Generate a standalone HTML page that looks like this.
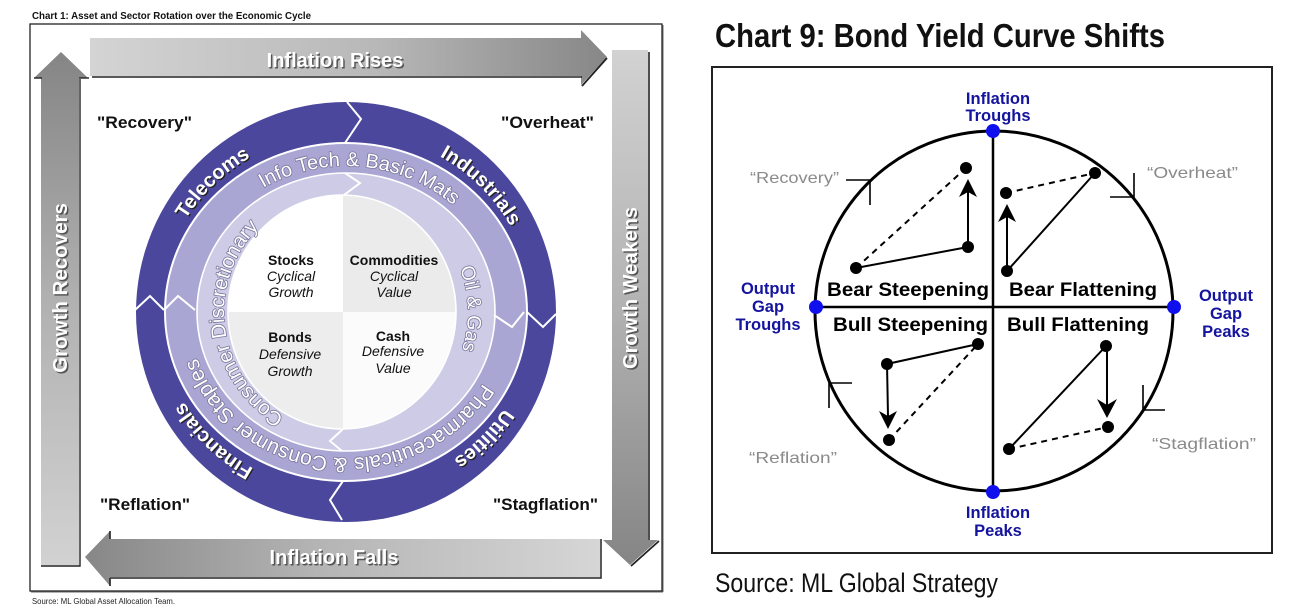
<!DOCTYPE html>
<html><head><meta charset="utf-8">
<style>
html,body{margin:0;padding:0;background:#fff;}
svg{display:block;}
text{font-family:"Liberation Sans",Arial,sans-serif;}
</style></head><body>
<svg width="1315" height="611" viewBox="0 0 1315 611" xmlns="http://www.w3.org/2000/svg">
<defs>
<linearGradient id="gTop" x1="90" y1="0" x2="607" y2="0" gradientUnits="userSpaceOnUse">
<stop offset="0" stop-color="#d4d4d4"/><stop offset="0.55" stop-color="#b8b8b8"/><stop offset="1" stop-color="#878787"/>
</linearGradient>
<linearGradient id="gBot" x1="85" y1="0" x2="600" y2="0" gradientUnits="userSpaceOnUse">
<stop offset="0" stop-color="#878787"/><stop offset="0.45" stop-color="#b4b4b4"/><stop offset="1" stop-color="#d6d6d6"/>
</linearGradient>
<linearGradient id="gRight" x1="0" y1="50" x2="0" y2="565" gradientUnits="userSpaceOnUse">
<stop offset="0" stop-color="#d2d2d2"/><stop offset="0.5" stop-color="#b2b2b2"/><stop offset="1" stop-color="#858585"/>
</linearGradient>
<linearGradient id="gLeft" x1="0" y1="565" x2="0" y2="52" gradientUnits="userSpaceOnUse">
<stop offset="0" stop-color="#d2d2d2"/><stop offset="0.5" stop-color="#b2b2b2"/><stop offset="1" stop-color="#858585"/>
</linearGradient>
<clipPath id="qc"><ellipse cx="342" cy="312" rx="114" ry="117"/></clipPath>
<path id="pTel" d="M170.3,250.4 A187,180 0 0 1 282.0,142.9"/>
<path id="pInd" d="M413.0,144.0 A187,180 0 0 1 522.8,253.4"/>
<path id="pUti" d="M523.3,369.1 A187,180 0 0 1 414.5,479.5"/>
<path id="pFin" d="M282.0,481.1 A187,180 0 0 1 170.3,373.6"/>
<path id="pInfo" d="M225.7,218.2 A157,146 0 0 1 484.0,242.3"/>
<path id="pPha" d="M488.3,373.7 A157,146 0 0 1 193.7,347.3"/>
<path id="pOil" d="M451.7,251.5 A122,121 0 0 1 454.7,366.9"/>
<path id="pCon" d="M294.4,421.7 A122,121 0 0 1 267.6,219.3"/>
</defs>

<!-- ================= LEFT CHART ================= -->
<text x="32" y="19" font-size="10.5" font-weight="bold" fill="#111" textLength="279" lengthAdjust="spacingAndGlyphs">Chart 1: Asset and Sector Rotation over the Economic Cycle</text>
<rect x="30" y="24" width="632" height="567" fill="#fff" stroke="#222" stroke-width="1.3"/>
<line x1="663" y1="25" x2="663" y2="592" stroke="#666" stroke-width="1"/>
<line x1="31" y1="592" x2="663" y2="592" stroke="#666" stroke-width="1"/>

<!-- top arrow -->
<polygon points="90,38 581,38 581,30 607,57 581,85 581,76 90,76" fill="url(#gTop)"/>
<polyline points="92,77 582,77" fill="none" stroke="#222" stroke-width="1.6"/>
<polyline points="582,86 607,58" fill="none" stroke="#222" stroke-width="1.8"/>
<text x="336.5" y="68.5" font-size="20" font-weight="bold" fill="#555" text-anchor="middle">Inflation Rises</text>
<text x="335" y="67" font-size="20" font-weight="bold" fill="#fff" text-anchor="middle">Inflation Rises</text>

<!-- right arrow -->
<polygon points="612,50 648,50 648,540 658,540 630,565 603,540 612,540" fill="url(#gRight)"/>
<polyline points="649,52 649,540" fill="none" stroke="#222" stroke-width="1.6"/>
<polyline points="659,541 631,566" fill="none" stroke="#222" stroke-width="1.8"/>
<text transform="translate(638.5,289.5) rotate(-90)" font-size="20" font-weight="bold" fill="#555" text-anchor="middle">Growth Weakens</text>
<text transform="translate(637,288) rotate(-90)" font-size="20" font-weight="bold" fill="#fff" text-anchor="middle">Growth Weakens</text>

<!-- left arrow -->
<polygon points="61,52 88,78 79,78 79,565 41,565 41,78 34,78" fill="url(#gLeft)"/>
<polyline points="41,566 80,566 80,79" fill="none" stroke="#222" stroke-width="1.4"/>
<polyline points="34,78 42,78" fill="none" stroke="#222" stroke-width="1.4"/>
<polyline points="79,78 89,78" fill="none" stroke="#222" stroke-width="1.4"/>
<text transform="translate(68.5,289.5) rotate(-90)" font-size="20.5" font-weight="bold" fill="#555" text-anchor="middle">Growth Recovers</text>
<text transform="translate(67,288) rotate(-90)" font-size="20.5" font-weight="bold" fill="#fff" text-anchor="middle">Growth Recovers</text>

<!-- bottom arrow -->
<polygon points="85,557 110,531 110,539 600,539 600,577 110,577 110,586" fill="url(#gBot)"/>
<polyline points="110,531 110,539" fill="none" stroke="#222" stroke-width="1.6"/>
<polyline points="110,578 601,578 601,539" fill="none" stroke="#222" stroke-width="1.5"/>
<polyline points="110,578 110,586" fill="none" stroke="#222" stroke-width="1.6"/>
<text x="335.5" y="565.5" font-size="20" font-weight="bold" fill="#555" text-anchor="middle">Inflation Falls</text>
<text x="334" y="564" font-size="20" font-weight="bold" fill="#fff" text-anchor="middle">Inflation Falls</text>

<!-- corner labels -->
<text x="97" y="128" font-size="17" font-weight="bold" fill="#111" textLength="95" lengthAdjust="spacingAndGlyphs">"Recovery"</text>
<text x="501" y="128" font-size="17" font-weight="bold" fill="#111" textLength="93" lengthAdjust="spacingAndGlyphs">"Overheat"</text>
<text x="100" y="510" font-size="17" font-weight="bold" fill="#111" textLength="90" lengthAdjust="spacingAndGlyphs">"Reflation"</text>
<text x="493" y="510" font-size="17" font-weight="bold" fill="#111" textLength="105" lengthAdjust="spacingAndGlyphs">"Stagflation"</text>

<!-- rings -->
<ellipse cx="346" cy="312" rx="210" ry="210" fill="#4b479c"/>
<ellipse cx="346" cy="312" rx="181" ry="169" fill="#a9a6d4" stroke="#fff" stroke-width="2"/>
<ellipse cx="346" cy="312" rx="149" ry="139" fill="#cdcbe6" stroke="#fff" stroke-width="1.6"/>
<g clip-path="url(#qc)">
<rect x="220" y="190" width="123" height="122" fill="#ffffff"/>
<rect x="343" y="190" width="120" height="122" fill="#ebebeb"/>
<rect x="220" y="312" width="123" height="122" fill="#ededed"/>
<rect x="343" y="312" width="120" height="122" fill="#fbfbfb"/>
</g>
<ellipse cx="342" cy="312" rx="114" ry="117" fill="none" stroke="#fff" stroke-width="1.6"/>

<!-- chevrons -->
<g fill="none" stroke="#fff" stroke-width="2" stroke-linejoin="miter">
<polyline points="347,102 361,119 345,143"/>
<polyline points="556,314 543,327 527,312"/>
<polyline points="343,481 330,500 342,520"/>
<polyline points="135,310 150,296 164,310"/>
<polyline points="524,312 512,327 494,315"/>
<polyline points="164,310 178,296 195,310"/>
<polyline points="345,173 360,183 344,195"/>
<polyline points="343,429 330,441 342,451"/>
</g>

<!-- ring text: outer -->
<g font-size="20" font-weight="bold">
<g transform="translate(1.2,1.2)" fill="#222">
<text><textPath href="#pTel" startOffset="50%" text-anchor="middle">Telecoms</textPath></text>
<text><textPath href="#pInd" startOffset="50%" text-anchor="middle">Industrials</textPath></text>
<text><textPath href="#pUti" startOffset="50%" text-anchor="middle">Utilities</textPath></text>
<text><textPath href="#pFin" startOffset="50%" text-anchor="middle">Financials</textPath></text>
</g>
<g fill="#fff">
<text><textPath href="#pTel" startOffset="50%" text-anchor="middle">Telecoms</textPath></text>
<text><textPath href="#pInd" startOffset="50%" text-anchor="middle">Industrials</textPath></text>
<text><textPath href="#pUti" startOffset="50%" text-anchor="middle">Utilities</textPath></text>
<text><textPath href="#pFin" startOffset="50%" text-anchor="middle">Financials</textPath></text>
</g>
</g>
<!-- ring text: middle/inner -->
<g fill="#fff" stroke="#77749a" stroke-width="1.6" paint-order="stroke" stroke-linejoin="round">
<text font-size="20"><textPath href="#pInfo" startOffset="50%" text-anchor="middle">Info Tech &amp; Basic Mats</textPath></text>
<text font-size="21"><textPath href="#pPha" startOffset="50%" text-anchor="middle">Pharmaceuticals &amp; Consumer Staples</textPath></text>
<text font-size="19.5"><textPath href="#pOil" startOffset="50%" text-anchor="middle">Oil &amp; Gas</textPath></text>
<text font-size="20.5"><textPath href="#pCon" startOffset="50%" text-anchor="middle">Consumer Discretionary</textPath></text>
</g>

<!-- quadrant labels -->
<g font-size="14" fill="#111" text-anchor="middle">
<text x="291" y="265" font-weight="bold">Stocks</text>
<text x="291" y="281" font-style="italic">Cyclical</text>
<text x="291" y="297" font-style="italic">Growth</text>
<text x="394" y="265" font-weight="bold">Commodities</text>
<text x="394" y="281" font-style="italic">Cyclical</text>
<text x="394" y="297" font-style="italic">Value</text>
<text x="290" y="342" font-weight="bold">Bonds</text>
<text x="290" y="359" font-style="italic">Defensive</text>
<text x="290" y="376" font-style="italic">Growth</text>
<text x="393" y="341" font-weight="bold">Cash</text>
<text x="393" y="356" font-style="italic">Defensive</text>
<text x="393" y="373" font-style="italic">Value</text>
</g>

<text x="32" y="604" font-size="8.5" fill="#222" textLength="143" lengthAdjust="spacingAndGlyphs">Source: ML Global Asset Allocation Team.</text>

<!-- ================= RIGHT CHART ================= -->
<text x="715" y="47" font-size="33" font-weight="bold" fill="#111" textLength="450" lengthAdjust="spacingAndGlyphs">Chart 9: Bond Yield Curve Shifts</text>
<rect x="712" y="67" width="560" height="486" fill="#fff" stroke="#222" stroke-width="2"/>

<ellipse cx="994" cy="311" rx="179" ry="180" fill="none" stroke="#000" stroke-width="3"/>
<line x1="993" y1="131" x2="993" y2="492" stroke="#000" stroke-width="2.5"/>
<line x1="815" y1="307" x2="1174" y2="307" stroke="#000" stroke-width="2.5"/>

<!-- ticks -->
<g stroke="#000" stroke-width="1.6" fill="none">
<polyline points="846,180 870,180 870,205"/>
<polyline points="1134,173 1134,197 1110,197"/>
<polyline points="852,383 829,383 829,408"/>
<polyline points="1143,385 1143,410 1165,410"/>
</g>

<!-- connectors -->
<g stroke="#000" stroke-width="2" fill="none">
<line x1="856" y1="268" x2="968" y2="247"/>
<line x1="856" y1="268" x2="966" y2="168" stroke-dasharray="6,5"/>
<line x1="968" y1="247" x2="968" y2="192"/>
<line x1="1007" y1="271" x2="1095" y2="173"/>
<line x1="1006" y1="193" x2="1095" y2="173" stroke-dasharray="6,5"/>
<line x1="1007" y1="271" x2="1007" y2="217"/>
<line x1="887" y1="364" x2="978" y2="344"/>
<line x1="889" y1="440" x2="978" y2="344" stroke-dasharray="6,5"/>
<line x1="887" y1="364" x2="888" y2="416"/>
<line x1="1009" y1="449" x2="1106" y2="346"/>
<line x1="1009" y1="449" x2="1108" y2="427" stroke-dasharray="6,5"/>
<line x1="1107" y1="346" x2="1107" y2="405"/>
</g>
<g fill="#000">
<path d="M968,179 L977,197 L968,192 L959,197 Z"/>
<path d="M1007,204 L1016,222 L1007,217 L998,222 Z"/>
<path d="M888,429 L879,411 L888,416 L897,411 Z"/>
<path d="M1107,418 L1097,399 L1107,405 L1117,399 Z"/>
<circle cx="966" cy="168" r="6"/>
<circle cx="968" cy="247" r="6"/>
<circle cx="856" cy="268" r="6"/>
<circle cx="1006" cy="193" r="6"/>
<circle cx="1095" cy="173" r="6"/>
<circle cx="1007" cy="271" r="6"/>
<circle cx="978" cy="344" r="6"/>
<circle cx="887" cy="364" r="6"/>
<circle cx="889" cy="440" r="6"/>
<circle cx="1106" cy="346" r="6"/>
<circle cx="1108" cy="427" r="6"/>
<circle cx="1009" cy="449" r="6"/>
</g>
<g fill="#1010ee">
<circle cx="993" cy="131" r="7"/>
<circle cx="993" cy="492" r="7"/>
<circle cx="816" cy="307" r="7"/>
<circle cx="1174" cy="307" r="7"/>
</g>

<g font-size="19" font-weight="bold" fill="#000">
<text x="827" y="296" textLength="162" lengthAdjust="spacingAndGlyphs">Bear Steepening</text>
<text x="1009" y="296" textLength="148" lengthAdjust="spacingAndGlyphs">Bear Flattening</text>
<text x="833" y="331" textLength="155" lengthAdjust="spacingAndGlyphs">Bull Steepening</text>
<text x="1007" y="331" textLength="142" lengthAdjust="spacingAndGlyphs">Bull Flattening</text>
</g>

<g font-size="16.5" font-weight="bold" fill="#14149e" text-anchor="middle">
<text x="998" y="104">Inflation</text>
<text x="998" y="121">Troughs</text>
<text x="998" y="518">Inflation</text>
<text x="998" y="536">Peaks</text>
<text x="768" y="294">Output</text>
<text x="768" y="312">Gap</text>
<text x="768" y="330">Troughs</text>
<text x="1226" y="301">Output</text>
<text x="1226" y="319">Gap</text>
<text x="1226" y="337">Peaks</text>
</g>

<g font-size="16" fill="#8a8a8a">
<text x="750" y="183" textLength="89" lengthAdjust="spacingAndGlyphs">“Recovery”</text>
<text x="1147" y="178" textLength="91" lengthAdjust="spacingAndGlyphs">“Overheat”</text>
<text x="749" y="463" textLength="88" lengthAdjust="spacingAndGlyphs">“Reflation”</text>
<text x="1152" y="449" textLength="104" lengthAdjust="spacingAndGlyphs">“Stagflation”</text>
</g>

<text x="715" y="592" font-size="27" fill="#111" textLength="283" lengthAdjust="spacingAndGlyphs">Source: ML Global Strategy</text>
</svg>
</body></html>
